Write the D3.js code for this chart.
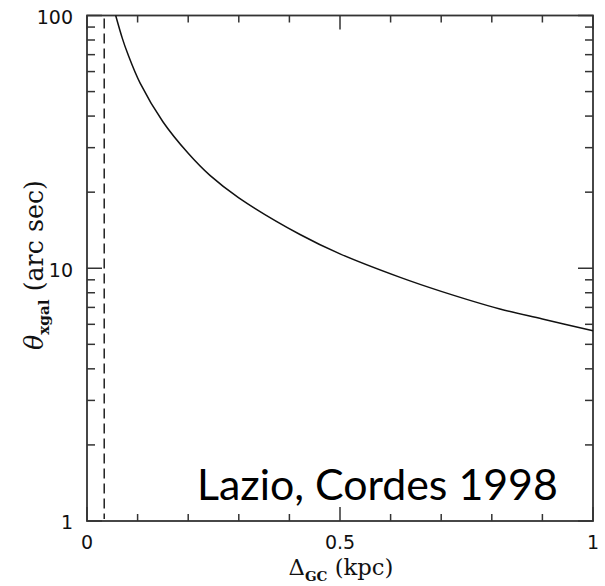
<!DOCTYPE html>
<html>
<head>
<meta charset="utf-8">
<script src="https://cdn.jsdelivr.net/npm/d3@7"></script>
<style>
  html, body { margin: 0; padding: 0; background: #fff; }
  svg { display: block; }
</style>
</head>
<body>
<svg id="chart" width="605" height="586"></svg>
<script>
// Angular broadening from the Galactic-centre scattering screen vs. offset
const deltaKpc    = [0.0567, 0.07, 0.08, 0.105, 0.15, 0.2, 0.243, 0.3, 0.421, 0.5, 0.619, 0.7, 0.816, 0.9, 1.0];
const thetaArcsec = [100, 81, 71, 54, 38, 28.5, 23.3, 19, 13.6, 11.4, 9.2, 8.1, 6.9, 6.3, 5.66];

// vertical dashed reference offset
const dashedDelta = [0.034];

// axis ticks
const xMajorTicks = [0, 0.5, 1];
const xMajorLabels = ["0", "0.5", "1"];
const xMinorTicks = [0.1, 0.2, 0.3, 0.4, 0.6, 0.7, 0.8, 0.9];
const yMajorTicks = [1, 10, 100];
const yMajorLabels = ["1", "10", "100"];
const yMinorTicks = [2, 3, 4, 5, 6, 7, 8, 9, 20, 30, 40, 50, 60, 70, 80, 90];

const svg = d3.select("#chart");
const plotL = 87, plotR = 593, plotT = 15.5, plotB = 521;

const x = d3.scaleLinear().domain([0, 1]).range([plotL, plotR]);
const y = d3.scaleLog().domain([1, 100]).range([plotB, plotT]);

const ink = "#111";
const frameColor = "#333";

// ticks drawn inward on all four sides
const ticks = svg.append("g").attr("stroke", frameColor).attr("stroke-width", 1.5);
function xTicks(vals, len) {
  vals.forEach(v => {
    ticks.append("line").attr("x1", x(v)).attr("x2", x(v)).attr("y1", plotB).attr("y2", plotB - len);
    ticks.append("line").attr("x1", x(v)).attr("x2", x(v)).attr("y1", plotT).attr("y2", plotT + len);
  });
}
function yTicks(vals, len) {
  vals.forEach(v => {
    ticks.append("line").attr("y1", y(v)).attr("y2", y(v)).attr("x1", plotL).attr("x2", plotL + len);
    ticks.append("line").attr("y1", y(v)).attr("y2", y(v)).attr("x1", plotR).attr("x2", plotR - len);
  });
}
xTicks(xMinorTicks, 7);
xTicks(xMajorTicks, 14);
yTicks(yMinorTicks, 8);
yTicks(yMajorTicks, 15);

// frame
svg.append("rect")
  .attr("x", plotL).attr("y", plotT)
  .attr("width", plotR - plotL).attr("height", plotB - plotT)
  .attr("fill", "none").attr("stroke", frameColor).attr("stroke-width", 1.8);

// dashed line
svg.selectAll("line.dash").data(dashedDelta).enter().append("line")
  .attr("class", "dash")
  .attr("x1", d => x(d)).attr("x2", d => x(d))
  .attr("y1", plotT + 3).attr("y2", plotB - 2)
  .attr("stroke", ink).attr("stroke-width", 1.4)
  .attr("stroke-dasharray", "10,5");

// curve
const pts = deltaKpc.map((d, i) => [d, thetaArcsec[i]]);
const line = d3.line()
  .x(d => x(d[0])).y(d => y(d[1]))
  .curve(d3.curveCatmullRom.alpha(0.5));
svg.append("path")
  .attr("d", line(pts))
  .attr("fill", "none").attr("stroke", ink).attr("stroke-width", 1.5);

// tick labels
const labelFont = "'DejaVu Sans', Verdana, sans-serif";
svg.selectAll("text.yl").data(yMajorTicks).enter().append("text")
  .attr("class", "yl")
  .attr("x", 73).attr("y", d => y(d) + 1.5).attr("dy", "0.36em")
  .attr("text-anchor", "end")
  .attr("font-family", labelFont).attr("font-size", 19).attr("fill", ink)
  .text((d, i) => yMajorLabels[i]);

svg.selectAll("text.xl").data(xMajorTicks).enter().append("text")
  .attr("class", "xl")
  .attr("x", d => x(d)).attr("y", 549)
  .attr("text-anchor", "middle")
  .attr("font-family", labelFont).attr("font-size", 19).attr("fill", ink)
  .text((d, i) => xMajorLabels[i]);

// axis titles: main glyphs plus a small bold subscript, scaled to a target width
const titleFont = "'DejaVu Serif', 'Liberation Serif', serif";
function title(sel, parts, base, targetW) {
  const spans = parts.map(p => sel.append("tspan").text(p.t)
    .attr("font-style", p.italic ? "italic" : null)
    .attr("font-weight", p.sub ? "bold" : null));
  function setSize(s) {
    spans.forEach((sp, i) => {
      const p = parts[i];
      sp.attr("font-size", p.sub ? s * 0.6 : s)
        .attr("dy", p.sub ? s * 0.25 : (i > 0 && parts[i - 1].sub ? -s * 0.25 : null));
    });
  }
  setSize(base);
  const w = sel.node().getComputedTextLength();
  setSize(base * targetW / w);
}

const xt = svg.append("text")
  .attr("x", 341).attr("y", 575)
  .attr("text-anchor", "middle")
  .attr("font-family", titleFont).attr("fill", ink);
title(xt, [{t: "Δ"}, {t: "GC", sub: true}, {t: "\u00a0(kpc)"}], 18, 105);

const yt = svg.append("text")
  .attr("transform", "translate(43,265) rotate(-90)")
  .attr("text-anchor", "middle")
  .attr("font-family", titleFont).attr("fill", ink);
title(yt, [{t: "θ", italic: true}, {t: "xgal", sub: true}, {t: "\u00a0(arc sec)"}], 20, 170);

// citation
const cite = svg.append("text")
  .attr("x", 197).attr("y", 500)
  .attr("font-family", "Lato, 'Open Sans', sans-serif")
  .attr("font-size", 44).attr("fill", "#000")
  .text("Lazio, Cordes 1998");
const citeW = cite.node().getComputedTextLength();
cite.attr("font-size", 44 * 361 / citeW);
</script>
</body>
</html>
